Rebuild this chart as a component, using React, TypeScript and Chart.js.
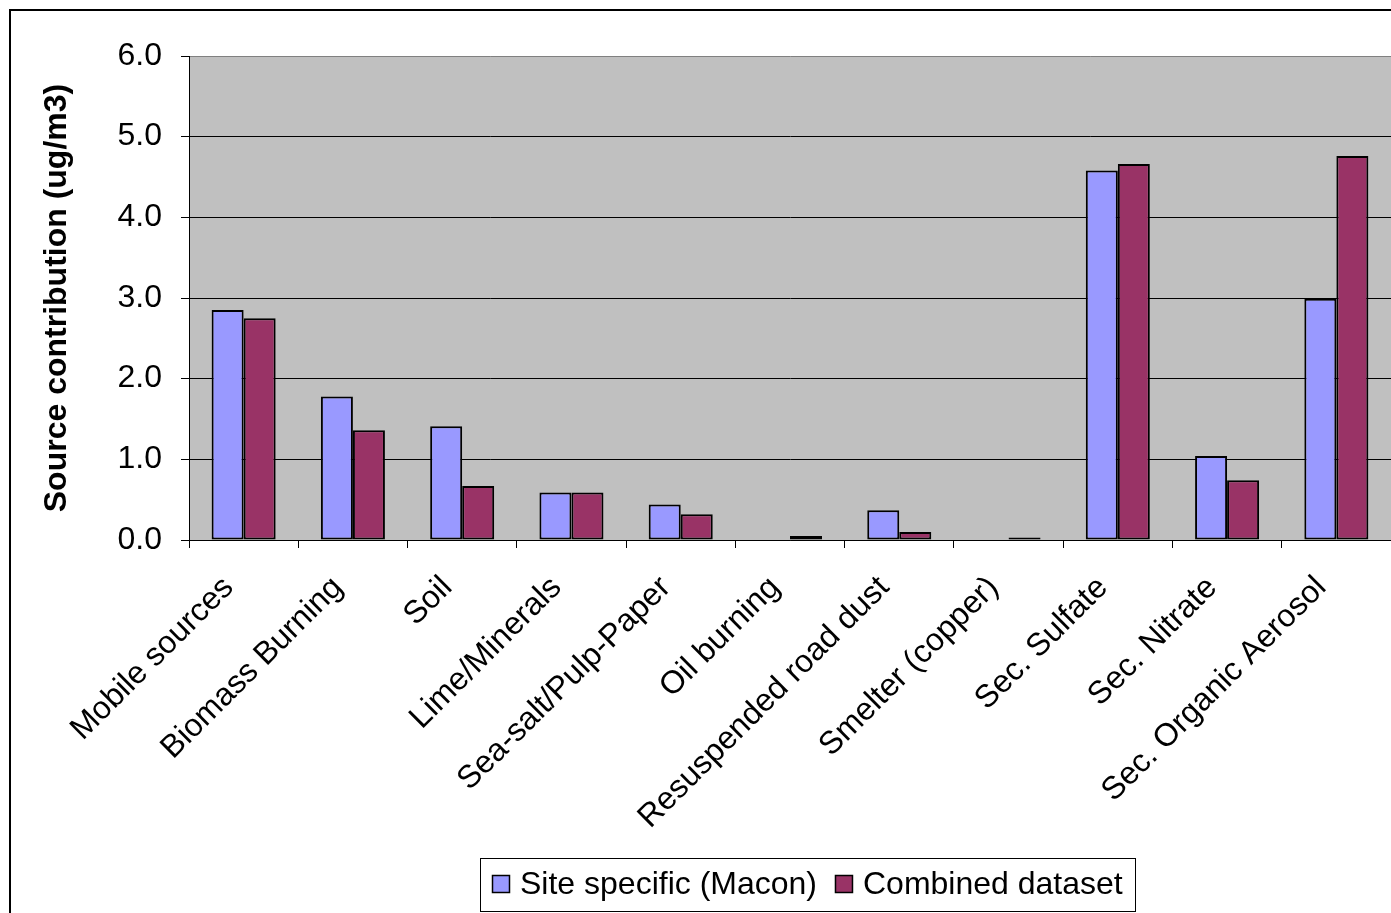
import React, { useEffect, useRef } from "react";
import { Chart, registerables } from "chart.js";

Chart.register(...registerables);

// Source categories along the x axis
const categories = [
  "Mobile sources",
  "Biomass Burning",
  "Soil",
  "Lime/Minerals",
  "Sea-salt/Pulp-Paper",
  "Oil burning",
  "Resuspended road dust",
  "Smelter (copper)",
  "Sec. Sulfate",
  "Sec. Nitrate",
  "Sec. Organic Aerosol",
];

// Source contributions in ug/m3
const siteSpecific = [2.85, 1.78, 1.41, 0.59, 0.44, 0, 0.37, 0, 4.58, 1.04, 2.99];
const combined = [2.75, 1.36, 0.67, 0.59, 0.32, 0.05, 0.1, 0.03, 4.66, 0.74, 4.76];

const seriesNames = ["Site specific (Macon)", "Combined dataset"];
const seriesColors = ["#9999FF", "#993366"];

const yMin = 0;
const yMax = 6;
const yStep = 1;
const yTitle = "Source contribution (ug/m3)";

const FONT = "'Liberation Sans', Arial, sans-serif";
const W = 1391;
const H = 913;

// grey plot-area fill behind the grid
const plotBackground = {
  id: "plotBackground",
  beforeDraw(chart: any) {
    const { ctx, chartArea } = chart;
    ctx.save();
    ctx.fillStyle = "#C0C0C0";
    ctx.fillRect(chartArea.left, chartArea.top, chartArea.right - chartArea.left, chartArea.bottom - chartArea.top);
    ctx.restore();
  },
};

// outer chart frame (left and top edges)
const outerFrame = {
  id: "outerFrame",
  afterDraw(chart: any) {
    const { ctx } = chart;
    ctx.save();
    ctx.strokeStyle = "#000";
    ctx.lineWidth = 2;
    ctx.beginPath();
    ctx.moveTo(10, H + 5);
    ctx.lineTo(10, 10);
    ctx.lineTo(W + 5, 10);
    ctx.stroke();
    ctx.restore();
  },
};

// boxed legend under the axis labels
const boxedLegend = {
  id: "boxedLegend",
  afterDraw(chart: any) {
    const { ctx } = chart;
    const sets = chart.data.datasets;
    const fontSize = 32;
    const pad = 12;
    const sw = 18;
    const gap = 10;
    const itemGap = 18;
    const centerX = 807;
    const centerY = 884;
    const boxH = 53;
    ctx.save();
    ctx.font = `${fontSize}px ${FONT}`;
    const widths = sets.map((d: any) => ctx.measureText(d.label).width);
    let total = pad * 2;
    widths.forEach((w: number, i: number) => {
      total += sw + gap + w + (i > 0 ? itemGap : 0);
    });
    const left = Math.round(centerX - total / 2);
    const top = Math.round(centerY - boxH / 2);
    ctx.fillStyle = "#fff";
    ctx.fillRect(left, top, total, boxH);
    ctx.strokeStyle = "#000";
    ctx.lineWidth = 1;
    ctx.strokeRect(left + 0.5, top + 0.5, Math.round(total), boxH);
    let x = left + pad;
    sets.forEach((d: any, i: number) => {
      if (i > 0) x += itemGap;
      const sy = Math.round(centerY - sw / 2);
      ctx.fillStyle = d.backgroundColor;
      ctx.fillRect(x, sy, sw, sw);
      ctx.strokeStyle = "#000";
      ctx.lineWidth = 1.5;
      ctx.strokeRect(x + 0.5, sy + 0.5, sw - 1, sw - 1);
      x += sw + gap;
      ctx.fillStyle = "#000";
      ctx.textBaseline = "middle";
      ctx.textAlign = "left";
      ctx.fillText(d.label, x, centerY + 1);
      x += widths[i];
    });
    ctx.restore();
  },
};

export default function App() {
  const canvasRef = useRef<HTMLCanvasElement | null>(null);

  useEffect(() => {
    if (!canvasRef.current) return;
    const chart = new Chart(canvasRef.current, {
      type: "bar",
      data: {
        labels: categories,
        datasets: [
          {
            label: seriesNames[0],
            data: siteSpecific,
            backgroundColor: seriesColors[0],
            borderColor: "#000",
            borderWidth: 2,
            borderSkipped: false,
          },
          {
            label: seriesNames[1],
            data: combined,
            backgroundColor: seriesColors[1],
            borderColor: "#000",
            borderWidth: 2,
            borderSkipped: false,
          },
        ],
      },
      options: {
        animation: false,
        responsive: false,
        maintainAspectRatio: false,
        layout: { padding: { left: 30, top: 56, right: 0, bottom: 0 } },
        datasets: {
          bar: { categoryPercentage: 0.586, barPercentage: 1 },
        },
        plugins: {
          legend: { display: false },
          tooltip: { enabled: false },
        },
        scales: {
          x: {
            offset: true,
            grid: {
              display: true,
              drawOnChartArea: false,
              drawTicks: true,
              tickLength: 8,
              color: "#000",
              offset: true,
            },
            border: { display: true, color: "#000", width: 1 },
            ticks: {
              autoSkip: false,
              minRotation: 45,
              maxRotation: 45,
              padding: 21,
              labelOffset: -15,
              color: "#000",
              font: { family: FONT, size: 32 },
            },
            afterFit(scale: any) {
              scale.height = H - 540;
              scale.paddingLeft = 0;
              scale.paddingRight = 0;
            },
          },
          y: {
            min: yMin,
            max: yMax,
            grid: {
              color: (c: any) => (c.tick && c.tick.value === yMax ? "#808080" : "#000"),
              tickColor: "#000",
              tickLength: 8,
              lineWidth: 1,
            },
            border: { display: true, color: "#000", width: 1 },
            ticks: {
              stepSize: yStep,
              padding: 19,
              color: "#000",
              font: { family: FONT, size: 32 },
              callback: (v: any) => Number(v).toFixed(1),
            },
            title: {
              display: true,
              text: yTitle,
              color: "#000",
              font: { family: FONT, size: 32, weight: "bold" },
              padding: { top: 8, bottom: 0 },
            },
            afterFit(scale: any) {
              scale.width = 159;
            },
          },
        },
      },
      plugins: [plotBackground, outerFrame, boxedLegend],
    });
    return () => chart.destroy();
  }, []);

  return (
    <div style={{ position: "fixed", left: 0, top: 0, width: W, height: H, overflow: "hidden", background: "#fff" }}>
      <canvas ref={canvasRef} width={W} height={H} style={{ display: "block", width: W, height: H }} />
    </div>
  );
}
